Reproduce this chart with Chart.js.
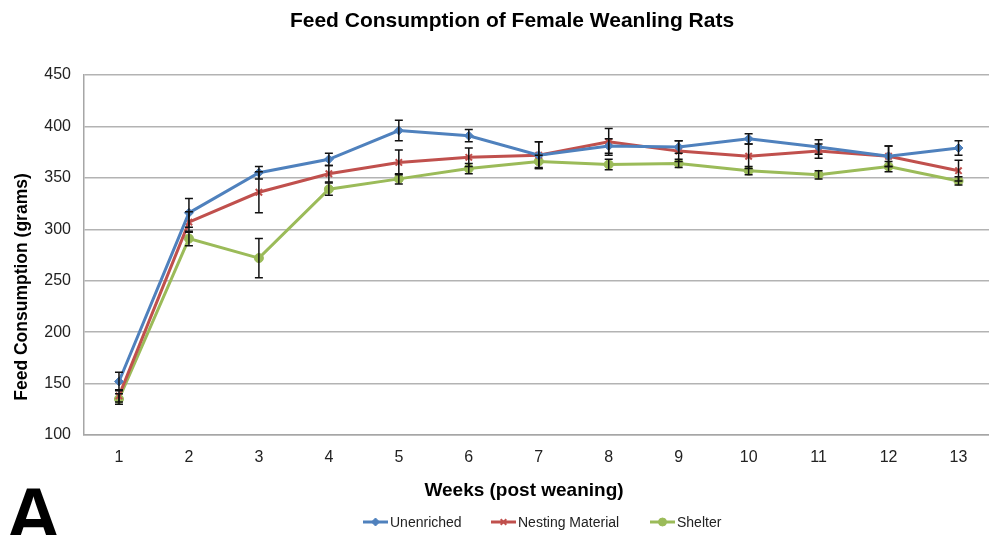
<!DOCTYPE html>
<html>
<head>
<meta charset="utf-8">
<script src="https://cdn.jsdelivr.net/npm/chart.js@4.4.1/dist/chart.umd.min.js"></script>
<style>
  html, body { margin: 0; padding: 0; background: #ffffff; overflow: hidden; }
  #wrap { position: relative; width: 1000px; height: 535px; }
</style>
</head>
<body>
<div id="wrap"><canvas id="chart" width="1000" height="535"></canvas></div>
<script>
/* global Chart */

// Data
const weeks = ['1', '2', '3', '4', '5', '6', '7', '8', '9', '10', '11', '12', '13'];

const unenriched     = [152, 316, 355, 368, 396, 391, 372, 381, 380, 388, 380, 371, 379];
const unenrichedErr  = [9, 14, 6, 6, 10, 6, 13, 7, 6, 5, 7, 10, 7];

const nesting        = [138, 307, 336, 354, 365, 370, 372, 385, 376, 371, 376, 371, 357];
const nestingErr     = [6, 10, 20, 8, 12, 9, 13, 13, 10, 12, 7, 10, 10];

const shelter        = [135, 291, 272, 339, 349, 359, 366, 363, 364, 357, 353, 361, 347];
const shelterErr     = [5, 7, 19, 6, 5, 5, 6, 5, 4, 4, 4, 5, 4];

const yTicks = [100, 150, 200, 250, 300, 350, 400, 450];

const COLORS = {
  blue:  '#4f81bd',
  red:   '#c0504d',
  green: '#9bbb59',
};

const FONT = "'Liberation Sans', Arial, sans-serif";

function makeSeries(label, data, err, color, style, radius) {
  return {
    label: label,
    data: data,
    errors: err,
    borderColor: color,
    backgroundColor: color,
    borderWidth: 3,
    pointStyle: style,
    pointRadius: radius,
    pointBorderWidth: style === 'crossRot' ? 2 : 1,
    pointBorderColor: color,
    pointBackgroundColor: color,
    tension: 0,
    fill: false,
  };
}

// Black error bars with short caps
const errorBars = {
  id: 'errorBars',
  afterDatasetsDraw(chart) {
    const ctx = chart.ctx;
    const y = chart.scales.y;
    ctx.save();
    ctx.strokeStyle = '#111111';
    ctx.lineWidth = 1.5;
    chart.data.datasets.forEach((ds, di) => {
      const meta = chart.getDatasetMeta(di);
      ds.data.forEach((v, i) => {
        const e = ds.errors[i];
        const px = meta.data[i].x;
        const top = y.getPixelForValue(v + e);
        const bot = y.getPixelForValue(v - e);
        ctx.beginPath();
        ctx.moveTo(px, top); ctx.lineTo(px, bot);
        ctx.moveTo(px - 4, top); ctx.lineTo(px + 4, top);
        ctx.moveTo(px - 4, bot); ctx.lineTo(px + 4, bot);
        ctx.stroke();
      });
    });
    ctx.restore();
  },
};

// Title, axis titles, legend and panel letter
const labels = {
  id: 'labels',
  afterDraw(chart) {
    const ctx = chart.ctx;
    ctx.save();
    ctx.fillStyle = '#000000';
    ctx.textAlign = 'center';
    ctx.textBaseline = 'middle';

    ctx.font = 'bold 21px ' + FONT;
    ctx.fillText('Feed Consumption of Female Weanling Rats', 512, 21);

    ctx.font = 'bold 19px ' + FONT;
    ctx.fillText('Weeks (post weaning)', 524, 491);

    ctx.save();
    ctx.translate(22, 287);
    ctx.rotate(-Math.PI / 2);
    ctx.font = 'bold 17.5px ' + FONT;
    ctx.fillText('Feed Consumption (grams)', 0, 0);
    ctx.restore();

    ctx.textAlign = 'left';
    ctx.textBaseline = 'alphabetic';
    ctx.font = 'bold 76px ' + FONT;
    ctx.fillText('A', 6, 541);

    // legend
    ctx.font = '14px ' + FONT;
    ctx.textBaseline = 'middle';
    const starts = [363, 491, 650];
    const ly = 522;
    chart.data.datasets.forEach((ds, i) => {
      const x0 = starts[i];
      ctx.strokeStyle = ds.borderColor;
      ctx.fillStyle = ds.backgroundColor;
      ctx.lineWidth = 3;
      ctx.beginPath();
      ctx.moveTo(x0, ly); ctx.lineTo(x0 + 25, ly);
      ctx.stroke();
      ctx.lineWidth = ds.pointBorderWidth;
      Chart.helpers.drawPoint(ctx, {
        pointStyle: ds.pointStyle,
        radius: ds.pointRadius - 0.5,
        borderWidth: ds.pointBorderWidth,
        rotation: 0,
      }, x0 + 12.5, ly);
      ctx.fillStyle = '#222222';
      ctx.fillText(ds.label, x0 + 27, ly + 1);
    });
    ctx.restore();
  },
};

const chart = new Chart(document.getElementById('chart'), {
  type: 'line',
  data: {
    labels: weeks,
    datasets: [
      makeSeries('Unenriched', unenriched, unenrichedErr, COLORS.blue, 'rectRot', 4.5),
      makeSeries('Nesting Material', nesting, nestingErr, COLORS.red, 'crossRot', 4.5),
      makeSeries('Shelter', shelter, shelterErr, COLORS.green, 'circle', 4.5),
    ],
  },
  options: {
    responsive: false,
    animation: false,
    layout: { padding: { top: 75, right: 1, bottom: 0, left: 0 } },
    plugins: {
      legend: { display: false },
      title: { display: false },
      tooltip: { enabled: false },
    },
    scales: {
      x: {
        offset: true,
        grid: { display: false, drawTicks: false },
        border: { color: '#a6a6a6', width: 1.5 },
        ticks: {
          color: '#222222',
          padding: 13,
          font: { family: FONT, size: 16 },
        },
        afterFit(scale) { scale.height = 100; },
      },
      y: {
        min: 100,
        max: 450,
        afterBuildTicks(scale) { scale.ticks = yTicks.map((v) => ({ value: v })); },
        grid: { color: '#b3b3b3', lineWidth: 1.5, drawTicks: false },
        border: { color: '#a6a6a6', width: 1.5 },
        ticks: {
          color: '#222222',
          padding: 13,
          font: { family: FONT, size: 16 },
        },
        afterFit(scale) { scale.width = 84; },
      },
    },
  },
  plugins: [errorBars, labels],
});
</script>
</body>
</html>
